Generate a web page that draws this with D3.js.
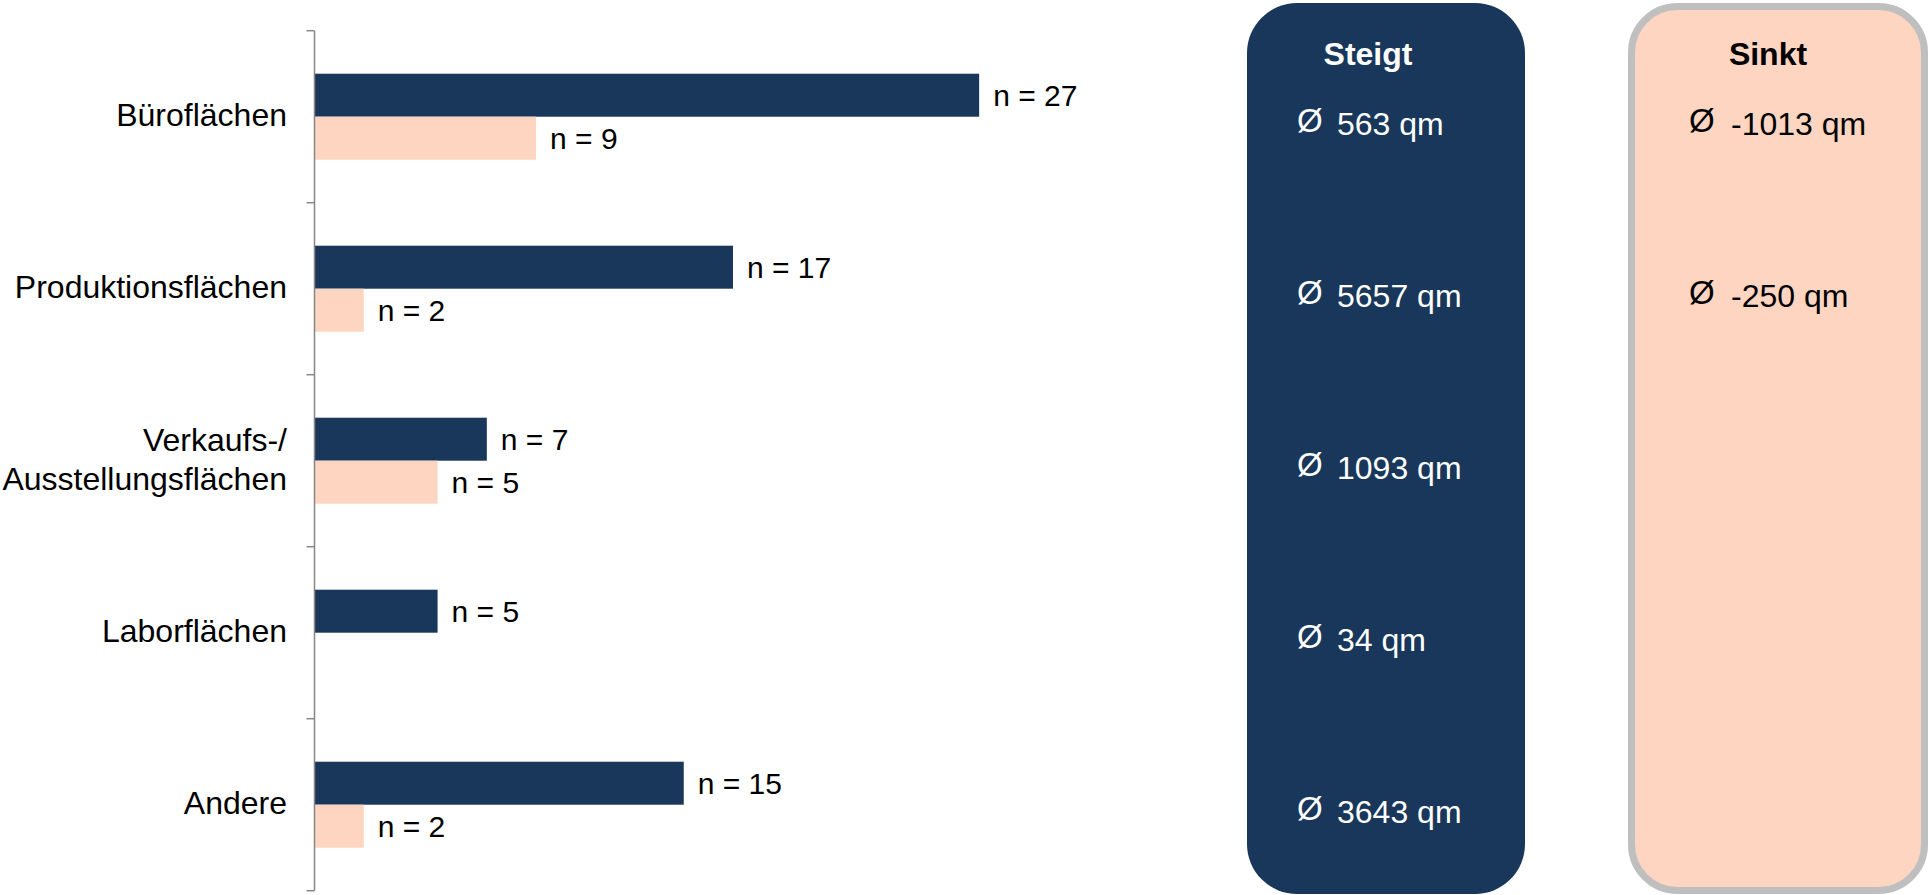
<!DOCTYPE html>
<html>
<head>
<meta charset="utf-8">
<script src="https://cdn.jsdelivr.net/npm/d3@7"></script>
<style>
  html, body { margin: 0; padding: 0; background: #ffffff; overflow: hidden; }
  svg { display: block; font-family: "Liberation Sans", Arial, sans-serif; }
</style>
</head>
<body>
<svg id="chart" width="1929" height="895"></svg>
<script>
// ---- data ----
const categories = ["Büroflächen", "Produktionsflächen", "Verkaufs-/\nAusstellungsflächen", "Laborflächen", "Andere"];
const seriesKeys = ["Steigt", "Sinkt"];
const steigtN = [27, 17, 7, 5, 15];
const sinktN = [9, 2, 5, 0, 2];
const steigtAvg = [563, 5657, 1093, 34, 3643];
const sinktAvg = [-1013, -250, null, null, null];

// ---- styles ----
const DARK = "#18375a";
const PEACH = "#fdd5c1";
const GREY = "#bfbfbf";

const svg = d3.select("#chart");

const x = d3.scaleLinear().domain([0, 30]).range([314.5, 1053]);
const y0 = d3.scaleBand().domain(categories).range([30.7, 890.7]).padding(0);
const y1 = d3.scaleBand().domain(seriesKeys).range([0, y0.bandwidth()]).paddingInner(0).paddingOuter(1);

const rows = categories.map((c, i) => ({
  cat: c,
  values: [
    { key: "Steigt", n: steigtN[i] },
    { key: "Sinkt", n: sinktN[i] }
  ]
}));

// ---- panels (behind) ----
svg.append("rect")
  .attr("x", 1247).attr("y", 3).attr("width", 278).attr("height", 891)
  .attr("rx", 50).attr("ry", 50)
  .attr("fill", DARK);

svg.append("rect")
  .attr("x", 1631.5).attr("y", 6.5).attr("width", 293).attr("height", 884)
  .attr("rx", 46).attr("ry", 46)
  .attr("fill", PEACH).attr("stroke", GREY).attr("stroke-width", 7);

svg.append("text")
  .attr("x", 1368).attr("y", 64.5)
  .attr("text-anchor", "middle")
  .attr("font-size", 32).attr("font-weight", "bold")
  .attr("fill", "#ffffff")
  .text(seriesKeys[0]);

svg.append("text")
  .attr("x", 1768).attr("y", 64.5)
  .attr("text-anchor", "middle")
  .attr("font-size", 32).attr("font-weight", "bold")
  .attr("fill", "#000000")
  .text(seriesKeys[1]);

// averages
function avgRows(vals, xSym, xVal, color) {
  const g = svg.append("g");
  vals.forEach((v, i) => {
    if (v === null) return;
    const cy = y0(categories[i]) + y0.bandwidth() / 2;
    g.append("text")
      .attr("x", xSym).attr("y", cy + 15.5)
      .attr("font-size", 33).attr("font-weight", 300).attr("fill", color)
      .text("Ø");
    g.append("text")
      .attr("x", xVal).attr("y", cy + 18.5)
      .attr("font-size", 32).attr("fill", color)
      .text(v + " qm");
  });
}
avgRows(steigtAvg, 1297, 1337, "#ffffff");
avgRows(sinktAvg, 1689, 1731, "#000000");

// ---- bars ----
const groups = svg.append("g").selectAll("g")
  .data(rows)
  .join("g")
  .attr("transform", d => `translate(0,${y0(d.cat)})`);

groups.selectAll("rect")
  .data(d => d.values.filter(v => v.n > 0))
  .join("rect")
  .attr("x", x(0))
  .attr("y", d => y1(d.key))
  .attr("width", d => x(d.n) - x(0))
  .attr("height", y1.bandwidth())
  .attr("fill", d => d.key === "Steigt" ? DARK : PEACH);

groups.selectAll("text.n")
  .data(d => d.values.filter(v => v.n > 0))
  .join("text")
  .attr("class", "n")
  .attr("x", d => x(d.n) + 14)
  .attr("y", d => y1(d.key) + y1.bandwidth() / 2)
  .attr("dominant-baseline", "central")
  .attr("font-size", 30)
  .attr("fill", "#000000")
  .text(d => "n = " + d.n);

// ---- axis ----
const axisX = x(0);
const axisG = svg.append("g");
const yr = y0.range();
axisG.append("line")
  .attr("x1", axisX).attr("x2", axisX)
  .attr("y1", yr[0]).attr("y2", yr[1])
  .attr("stroke", "#868686").attr("stroke-width", 1.5);

const boundaries = categories.map(c => y0(c)).concat([yr[1]]);
axisG.selectAll("line.tick")
  .data(boundaries)
  .join("line")
  .attr("class", "tick")
  .attr("x1", axisX - 8).attr("x2", axisX)
  .attr("y1", d => d).attr("y2", d => d)
  .attr("stroke", "#868686").attr("stroke-width", 1.5);

const labels = axisG.selectAll("text.cat")
  .data(categories)
  .join("text")
  .attr("class", "cat")
  .attr("text-anchor", "end")
  .attr("font-size", 32)
  .attr("fill", "#000000")
  .attr("x", 287)
  .attr("y", d => y0(d) + y0.bandwidth() / 2 - 1.5);

labels.each(function(d) {
  const lines = d.split("\n");
  const lh = 39;
  const t = d3.select(this);
  lines.forEach((ln, k) => {
    t.append("tspan")
      .attr("x", 287)
      .attr("dy", k === 0 ? (-(lines.length - 1) * lh / 2) : lh)
      .attr("dominant-baseline", "central")
      .text(ln);
  });
});
</script>
</body>
</html>
